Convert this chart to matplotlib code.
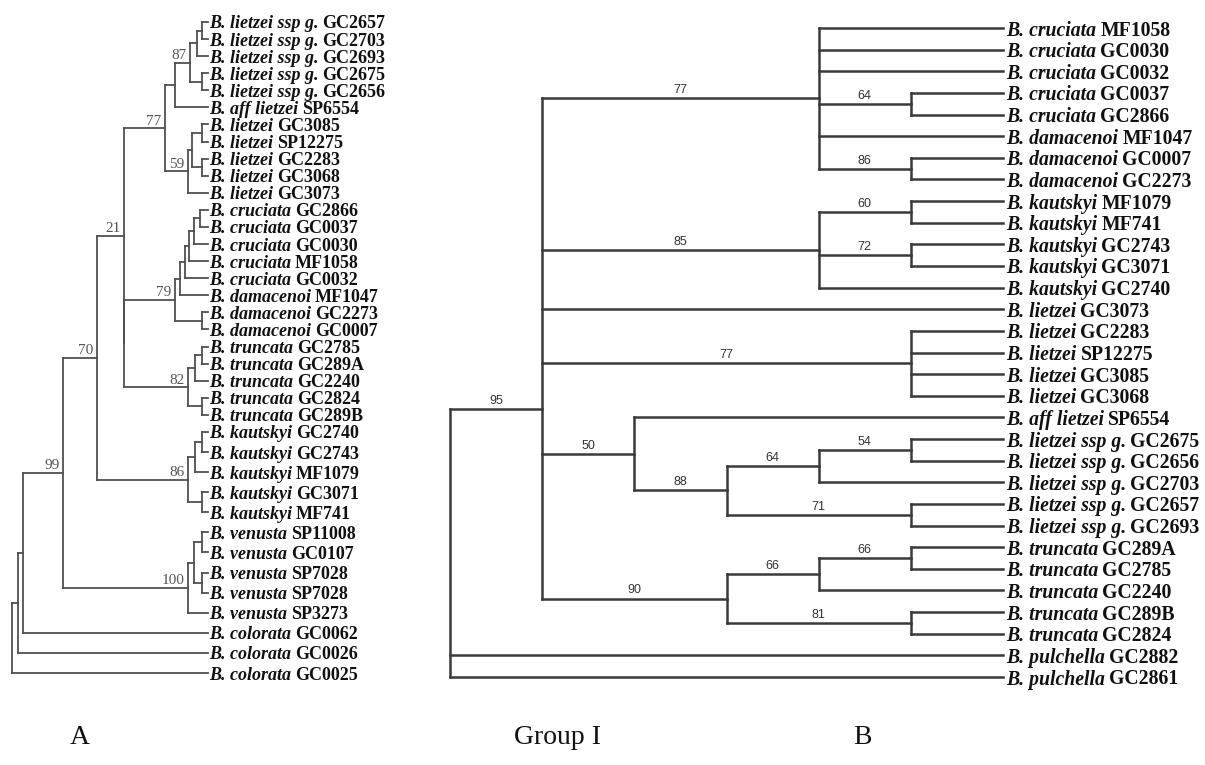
import matplotlib
matplotlib.use("Agg")
import matplotlib.pyplot as plt
import numpy as np

plt.rcParams["font.family"] = ["Liberation Serif", "DejaVu Serif"]

# ---------------- panel A : leaves, top to bottom ----------------
leaves_a = [
    ("B. lietzei ssp g.", "GC2657"), ("B. lietzei ssp g.", "GC2703"),
    ("B. lietzei ssp g.", "GC2693"), ("B. lietzei ssp g.", "GC2675"),
    ("B. lietzei ssp g.", "GC2656"), ("B. aff lietzei", "SP6554"),
    ("B. lietzei", "GC3085"), ("B. lietzei", "SP12275"),
    ("B. lietzei", "GC2283"), ("B. lietzei", "GC3068"),
    ("B. lietzei", "GC3073"),
    ("B. cruciata", "GC2866"), ("B. cruciata", "GC0037"),
    ("B. cruciata", "GC0030"), ("B. cruciata", "MF1058"),
    ("B. cruciata", "GC0032"),
    ("B. damacenoi", "MF1047"), ("B. damacenoi", "GC2273"),
    ("B. damacenoi", "GC0007"),
    ("B. truncata", "GC2785"), ("B. truncata", "GC289A"),
    ("B. truncata", "GC2240"), ("B. truncata", "GC2824"),
    ("B. truncata", "GC289B"),
    ("B. kautskyi", "GC2740"), ("B. kautskyi", "GC2743"),
    ("B. kautskyi", "MF1079"), ("B. kautskyi", "GC3071"),
    ("B. kautskyi", "MF741"),
    ("B. venusta", "SP11008"), ("B. venusta", "GC0107"),
    ("B. venusta", "SP7028"), ("B. venusta", "SP7028"),
    ("B. venusta", "SP3273"),
    ("B. colorata", "GC0062"), ("B. colorata", "GC0026"),
    ("B. colorata", "GC0025"),
]

# ---------------- panel B : leaves, top to bottom ----------------
leaves_b = [
    ("B. cruciata", "MF1058"), ("B. cruciata", "GC0030"),
    ("B. cruciata", "GC0032"), ("B. cruciata", "GC0037"),
    ("B. cruciata", "GC2866"),
    ("B. damacenoi", "MF1047"), ("B. damacenoi", "GC0007"),
    ("B. damacenoi", "GC2273"),
    ("B. kautskyi", "MF1079"), ("B. kautskyi", "MF741"),
    ("B. kautskyi", "GC2743"), ("B. kautskyi", "GC3071"),
    ("B. kautskyi", "GC2740"),
    ("B. lietzei", "GC3073"), ("B. lietzei", "GC2283"),
    ("B. lietzei", "SP12275"), ("B. lietzei", "GC3085"),
    ("B. lietzei", "GC3068"),
    ("B. aff lietzei", "SP6554"),
    ("B. lietzei ssp g.", "GC2675"), ("B. lietzei ssp g.", "GC2656"),
    ("B. lietzei ssp g.", "GC2703"), ("B. lietzei ssp g.", "GC2657"),
    ("B. lietzei ssp g.", "GC2693"),
    ("B. truncata", "GC289A"), ("B. truncata", "GC2785"),
    ("B. truncata", "GC2240"), ("B. truncata", "GC289B"),
    ("B. truncata", "GC2824"),
    ("B. pulchella", "GC2882"), ("B. pulchella", "GC2861"),
]


def N(depth, *kids, s="", stem=None):
    # internal node: depth from root, children (leaf index or node), support
    return {"d": depth, "c": list(kids), "s": s, "stem": stem}


# tree A: node depths (arbitrary units, tips at 196)
tip_a = 196
tree_a = N(0,
  N(6,
    N(11,
      N(51,
        N(85,
          N(112,
            N(153,
              N(163,
                N(178, N(185, N(190, 0, 1), 2), N(190, 3, 4), s="87"),
                5),
              N(176, N(180, N(190, 6, 7), N(190, 8, 9)), 10, s="59"),
              s="77"),
            N(112,
              N(163,
                N(168, N(173, N(177, N(182, N(188, 11, 12), 13), 14), 15), 16),
                N(190, 17, 18), s="79"),
              N(176, N(183, N(190, 19, 20), 21), N(190, 22, 23), s="82")),
            s="21"),
          N(176, N(183, N(190, 24, 25), 26), N(190, 27, 28), s="86"),
          s="70"),
        N(176, N(182, N(190, 29, 30), N(190, 31, 32)), 33, s="100"),
        s="99"),
      34),
    35),
  36)

# tree B: cladogram, integer depths, tips at 6
tip_b = 6
tree_b = N(0,
  N(1,
    N(4, 0, 1, 2, N(5, 3, 4, s="64"), 5, N(5, 6, 7, s="86"), s="77"),
    N(4, N(5, 8, 9, s="60"), N(5, 10, 11, s="72"), 12, s="85"),
    13,
    N(5, 14, 15, 16, 17, s="77"),
    N(2, 18,
      N(3, N(4, N(5, 19, 20, s="54"), 21, s="64"), N(5, 22, 23, s="71"), s="88"),
      s="50"),
    N(3, N(4, N(5, 24, 25, s="66"), 26, s="66"), N(5, 27, 28, s="81"), s="90"),
    s="95", stem=(3, 4)),
  29, 30)


def layout(node, rows):
    if isinstance(node, int):
        return rows[node]
    ys = [layout(c, rows) for c in node["c"]]
    node["ys"] = ys
    if node["stem"]:
        a, b = node["stem"]
        node["y"] = (ys[a] + ys[b]) / 2
    else:
        node["y"] = (ys[0] + ys[-1]) / 2
    return node["y"]


def draw(ax, node, tip, lw, color, support):
    x = node["d"]
    ys = node["ys"]
    kw = dict(color=color, lw=lw, clip_on=False, solid_capstyle="projecting")
    ax.plot([x, x], [min(ys), max(ys)], **kw)
    for c, cy in zip(node["c"], ys):
        cx = tip if isinstance(c, int) else c["d"]
        ax.plot([x, cx], [cy, cy], **kw)
        if not isinstance(c, int):
            if c["s"]:
                support(ax, x, cx, cy, c["s"])
            draw(ax, c, tip, lw, color, support)


def leaf_labels(ax, leaves, rows, tip, size, gap):
    for (sp, code), y in zip(leaves, rows):
        t1 = ax.annotate(sp, xy=(tip, y), xytext=(gap, 0), textcoords="offset points",
                         fontsize=size, style="italic", weight="bold",
                         ha="left", va="center_baseline", color="#111111",
                         annotation_clip=False)
        ax.annotate(code, xy=(1, y), xycoords=(t1, "data"), xytext=(size * 0.19, 0),
                    textcoords="offset points", fontsize=size, weight="bold",
                    ha="left", va="center_baseline", color="#111111",
                    annotation_clip=False)


def support_a(ax, x0, x1, y, s):
    ax.annotate(s, xy=(x1, y), xytext=(-2.5, 0.3), textcoords="offset points",
                ha="right", va="bottom", fontsize=11, color="#555555",
                annotation_clip=False)


def support_b(ax, x0, x1, y, s):
    ax.annotate(s, xy=((x0 + x1) / 2, y), xytext=(0, 1.5), textcoords="offset points",
                ha="center", va="bottom", fontsize=9, color="#333333",
                family=["Liberation Sans", "DejaVu Sans"], annotation_clip=False)


W, H = 1205, 765
fig = plt.figure(figsize=(W / 100, H / 100), dpi=100)
fig.patch.set_facecolor("white")

# panel A (rows slightly more spread towards the bottom, as in the scan)
idx_a = np.arange(len(leaves_a))
rows_a = idx_a + 0.176 * np.clip(idx_a - 24, 0, None)
layout(tree_a, rows_a)
ax_a = fig.add_axes([12 / W, 1 - 673 / H, 196 / W, 651 / H])
ax_a.set_xlim(0, tip_a)
ax_a.set_ylim(rows_a[-1], rows_a[0])
ax_a.axis("off")
draw(ax_a, tree_a, tip_a, 1.3, "#505050", support_a)
leaf_labels(ax_a, leaves_a, rows_a, tip_a, 13, 1.2)

# panel B
rows_b = np.arange(len(leaves_b))
layout(tree_b, rows_b)
ax_b = fig.add_axes([450 / W, 1 - 677 / H, 553 / W, 649 / H])
ax_b.set_xlim(0, tip_b)
ax_b.set_ylim(rows_b[-1], rows_b[0])
ax_b.axis("off")
draw(ax_b, tree_b, tip_b, 1.8, "#3a3a3a", support_b)
leaf_labels(ax_b, leaves_b, rows_b, tip_b, 14.2, 2.5)

# captions
for txt, xp in [("A", 80), ("Group I", 557), ("B", 862)]:
    fig.text(xp / W, 1 - 738 / H, txt, ha="center", va="center", fontsize=20,
             color="#111111")

fig.savefig("out.png", dpi=100)
